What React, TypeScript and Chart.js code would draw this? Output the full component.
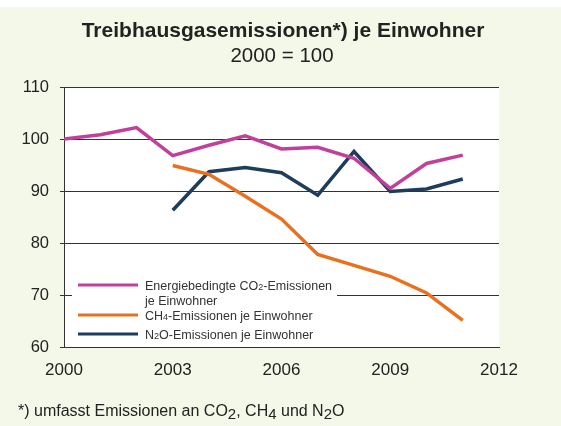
import React, { useEffect, useRef } from "react";
import { Chart, registerables } from "chart.js";

Chart.register(...registerables);

const years = [2000, 2001, 2002, 2003, 2004, 2005, 2006, 2007, 2008, 2009, 2010, 2011];
const co2 = [100, 100.8, 102.2, 96.8, 98.8, 100.6, 98.1, 98.4, 96.3, 90.5, 95.3, 96.9];
const ch4 = [null, null, null, 94.9, 93.2, 89.0, 84.6, 77.8, 75.7, 73.6, 70.4, 65.1];
const n2o = [null, null, null, 86.3, 93.7, 94.5, 93.5, 89.2, 97.6, 89.9, 90.4, 92.3];
const xTicks = [2000, 2003, 2006, 2009, 2012];
const yTicks = [60, 70, 80, 90, 100, 110];

const titleText = "Treibhausgasemissionen*) je Einwohner";
const subtitleText = "2000 = 100";
// legend entries as [text, isSubscript] parts
const legendCO2a: [string, boolean][] = [["Energiebedingte CO", false], ["2", true], ["-Emissionen", false]];
const legendCO2b: [string, boolean][] = [["je Einwohner", false]];
const legendCH4: [string, boolean][] = [["CH", false], ["4", true], ["-Emissionen je Einwohner", false]];
const legendN2O: [string, boolean][] = [["N", false], ["2", true], ["O-Emissionen je Einwohner", false]];
const footnote: [string, boolean][] = [
  ["*) umfasst Emissionen an CO", false], ["2", true], [", CH", false], ["4", true], [" und N", false], ["2", true], ["O", false],
];

const COL_CO2 = "#c0409c";
const COL_CH4 = "#e8701e";
const COL_N2O = "#1e3d5c";
const BG = "#f3f8e8";
const FONT = '"Liberation Sans", Arial, sans-serif';

function pts(vals: (number | null)[]) {
  return years.map((x, i) => ({ x, y: vals[i] }));
}

function drawRich(ctx: CanvasRenderingContext2D, parts: [string, boolean][], x: number, y: number, size: number, subSize: number, subDy: number) {
  let cx = x;
  for (const [t, sub] of parts) {
    ctx.font = `${sub ? subSize : size}px ${FONT}`;
    ctx.fillText(t, cx, sub ? y + subDy : y);
    cx += ctx.measureText(t).width;
  }
}

const decorPlugin = {
  id: "decor",
  beforeDraw(chart: any) {
    const ctx = chart.ctx as CanvasRenderingContext2D;
    const a = chart.chartArea;
    ctx.save();
    ctx.fillStyle = "#ffffff";
    ctx.fillRect(0, 0, chart.width, chart.height);
    ctx.fillStyle = BG;
    ctx.fillRect(0, 7, chart.width, chart.height - 7);
    ctx.fillStyle = "#ffffff";
    ctx.fillRect(a.left, a.top, a.right - a.left, a.bottom - a.top);
    // titles
    ctx.fillStyle = "#222222";
    ctx.textAlign = "center";
    ctx.textBaseline = "middle";
    ctx.font = `bold 21px ${FONT}`;
    ctx.fillText(titleText, 283, 31);
    ctx.font = `20.5px ${FONT}`;
    ctx.fillText(subtitleText, 282, 56);
    // footnote
    ctx.textAlign = "left";
    ctx.textBaseline = "alphabetic";
    ctx.fillStyle = "#222222";
    drawRich(ctx, footnote, 18, 416, 16, 15, 3);
    ctx.restore();
  },
  beforeDatasetsDraw(chart: any) {
    const ctx = chart.ctx as CanvasRenderingContext2D;
    ctx.save();
    ctx.fillStyle = "#ffffff";
    ctx.fillRect(72, 272, 265, 73);
    const entries: [string, number][] = [[COL_CO2, 285], [COL_CH4, 315], [COL_N2O, 334]];
    ctx.lineWidth = 3;
    for (const [c, y] of entries) {
      ctx.strokeStyle = c;
      ctx.beginPath();
      ctx.moveTo(78, y);
      ctx.lineTo(138, y);
      ctx.stroke();
    }
    ctx.fillStyle = "#333333";
    ctx.textAlign = "left";
    ctx.textBaseline = "alphabetic";
    drawRich(ctx, legendCO2a, 145, 289.5, 12.5, 9, 0.5);
    drawRich(ctx, legendCO2b, 145, 304.5, 12.5, 9, 0.5);
    drawRich(ctx, legendCH4, 145, 319.5, 12.5, 9, 0.5);
    drawRich(ctx, legendN2O, 145, 338.5, 12.5, 9, 0.5);
    ctx.restore();
  },
};

export default function App() {
  const ref = useRef<HTMLCanvasElement>(null);
  useEffect(() => {
    document.body.style.margin = "0";
    const ds = (label: string, vals: (number | null)[], color: string) => ({
      label,
      data: pts(vals),
      borderColor: color,
      backgroundColor: color,
      borderWidth: 3.5,
      pointRadius: 0,
      tension: 0,
      spanGaps: false,
    });
    const chart = new Chart(ref.current!, {
      type: "line",
      data: {
        datasets: [
          ds("Energiebedingte CO2-Emissionen je Einwohner", co2, COL_CO2),
          ds("CH4-Emissionen je Einwohner", ch4, COL_CH4),
          ds("N2O-Emissionen je Einwohner", n2o, COL_N2O),
        ],
      },
      options: {
        animation: false,
        responsive: false,
        devicePixelRatio: 1,
        layout: { padding: { top: 87, left: 0, right: 62, bottom: 49 } },
        plugins: { legend: { display: false }, title: { display: false }, tooltip: { enabled: false } },
        scales: {
          x: {
            type: "linear",
            min: 2000,
            max: 2012,
            afterBuildTicks: (s: any) => { s.ticks = xTicks.map((v) => ({ value: v })); },
            afterFit: (s: any) => { s.height = 30; },
            grid: { display: false, drawTicks: false },
            border: { display: true, color: "#333333", width: 1 },
            ticks: { color: "#222222", font: { family: FONT, size: 17 }, padding: 13, maxRotation: 0, autoSkip: false, callback: (v: any) => String(v) },
          },
          y: {
            min: 60,
            max: 110,
            afterBuildTicks: (s: any) => { s.ticks = yTicks.map((v) => ({ value: v })); },
            afterFit: (s: any) => { s.width = 64; },
            grid: { color: "#333333", lineWidth: 1, drawTicks: true, tickLength: 4 },
            border: { display: true, color: "#333333", width: 1 },
            ticks: { color: "#222222", font: { family: FONT, size: 16.5 }, padding: 11, callback: (v: any) => String(v) },
          },
        },
      },
      plugins: [decorPlugin],
    } as any);
    return () => chart.destroy();
  }, []);
  return (
    <div style={{ width: 561, height: 426 }}>
      <canvas ref={ref} width={561} height={426} style={{ display: "block", width: 561, height: 426 }} />
    </div>
  );
}
